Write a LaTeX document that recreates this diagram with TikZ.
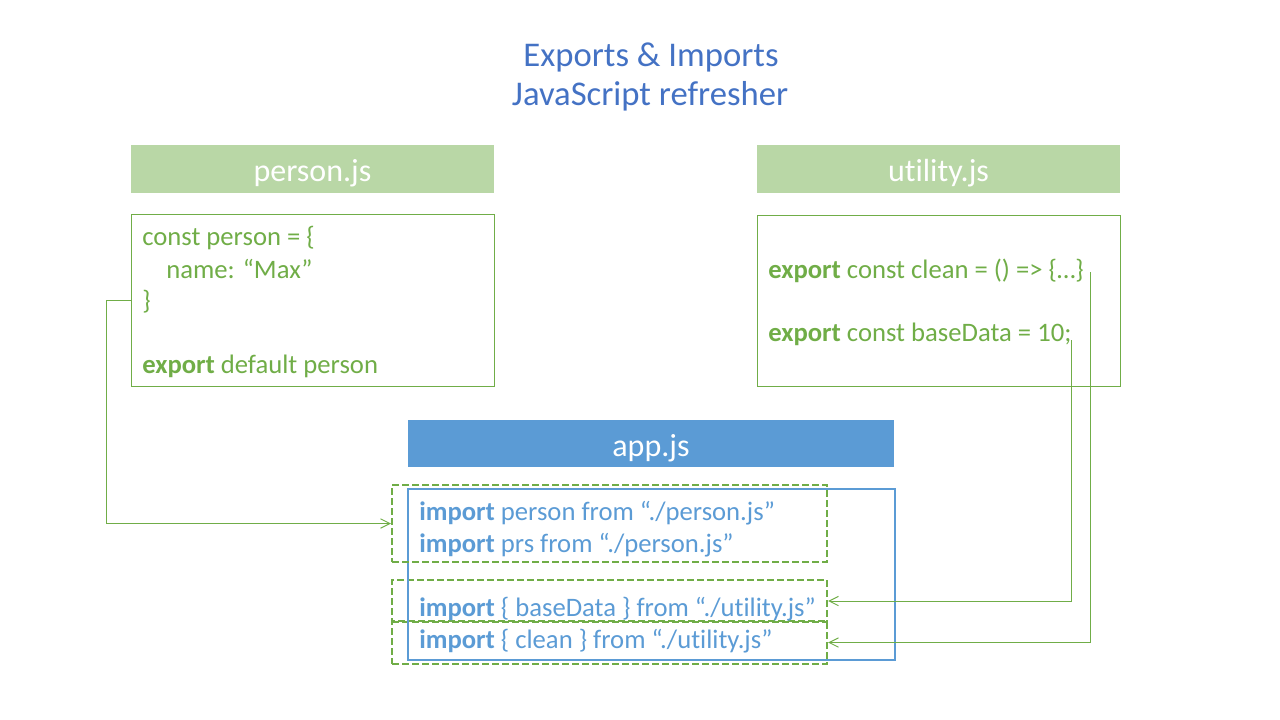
\documentclass[tikz,border=0pt]{standalone}
\usepackage{fontspec}
\setmainfont{Carlito}[Ligatures={NoCommon,NoContextual}]
\usepackage{xcolor}
\usetikzlibrary{arrows.meta}
\definecolor{jsgreen}{HTML}{70AD47}
\definecolor{headgreen}{RGB}{185,215,166}
\definecolor{jsblue}{HTML}{5B9BD5}
\definecolor{titleblue}{HTML}{4472C4}

\begin{document}
\begin{tikzpicture}[x=0.75pt,y=-0.75pt,
    title/.style={anchor=base, inner sep=0pt, text=titleblue, font=\fontsize{26}{30}\selectfont},
    header/.style={fill=#1, text=white, minimum width=272.25pt, minimum height=36pt,
        inner sep=0pt, text height=21pt, text depth=1.5pt, font=\fontsize{24}{28}\selectfont},
    codebox/.style={draw=#1, minimum width=272.25pt, minimum height=128.25pt, inner sep=0pt},
    code/.style={anchor=base west, inner sep=0pt, text=#1, font=\fontsize{20}{24}\selectfont},
    importbox/.style={draw=jsgreen, line width=1.5pt, dash pattern=on 5.25pt off 2.25pt,
        minimum width=326.25pt, inner sep=0pt},
    link/.style={draw=jsgreen, line width=0.75pt, -{Straight Barb[length=7pt,width=7pt]}}]
    \useasboundingbox (0,0) rectangle (1280,720);

    % title
    \node[title] (title1) at (651,67) {Exports \& Imports};
    \node[title] (title2) at (650,106) {JavaScript refresher};

    % person.js
    \node[header=headgreen] (personhead) at (312.5,169) {person.js};
    \node[codebox=jsgreen, line width=0.75pt] (person) at (312.5,300.5) {};
    \node[code=jsgreen] (p1) at (142,246) {const person = \{};
    \node[code=jsgreen] (p2) at (166,278) {name: “Max”};
    \node[code=jsgreen] (p3) at (142,309) {\}};
    \node[code=jsgreen] (p4) at (142,373) {\textbf{export} default person};

    % utility.js
    \node[header=headgreen] (utilhead) at (938.5,169) {utility.js};
    \node[codebox=jsgreen, line width=0.75pt, minimum height=127.5pt] (util) at (938.5,301) {};
    \node[code=jsgreen] (u1) at (768,278) {\textbf{export} const clean = () => \{…\}};
    \node[code=jsgreen] (u2) at (768,341) {\textbf{export} const baseData = 10;};
    \coordinate (cleanend) at (1090,272);
    \coordinate (baseend) at (1071,340);

    % app.js
    \node[header=jsblue, minimum width=364.5pt, minimum height=35.25pt] (apphead) at (651,443.5) {app.js};
    \node[importbox, minimum height=31.5pt] (imp2) at (609.5,601) {};
    \node[importbox, minimum height=32.25pt] (imp3) at (609.5,642.5) {};
    \node[codebox=jsblue, line width=1.5pt, minimum width=365.25pt] (app) at (651.5,574.5) {};
    \node[importbox, minimum height=57.75pt] (imp1) at (609.5,523.5) {};
    \node[code=jsblue] (a1) at (419,520) {\textbf{import} person from “./person.js”};
    \node[code=jsblue] (a2) at (419,552) {\textbf{import} prs from “./person.js”};
    \node[code=jsblue] (a3) at (419,616) {\textbf{import} \{ baseData \} from “./utility.js”};
    \node[code=jsblue] (a4) at (419,648) {\textbf{import} \{ clean \} from “./utility.js”};

    % connectors
    \draw[link] (person.west) -- ++(-24,0) |- (imp1.west);
    \draw[link] (baseend) |- (imp2.east);
    \draw[link] (cleanend) |- (imp3.east);
\end{tikzpicture}
\end{document}
